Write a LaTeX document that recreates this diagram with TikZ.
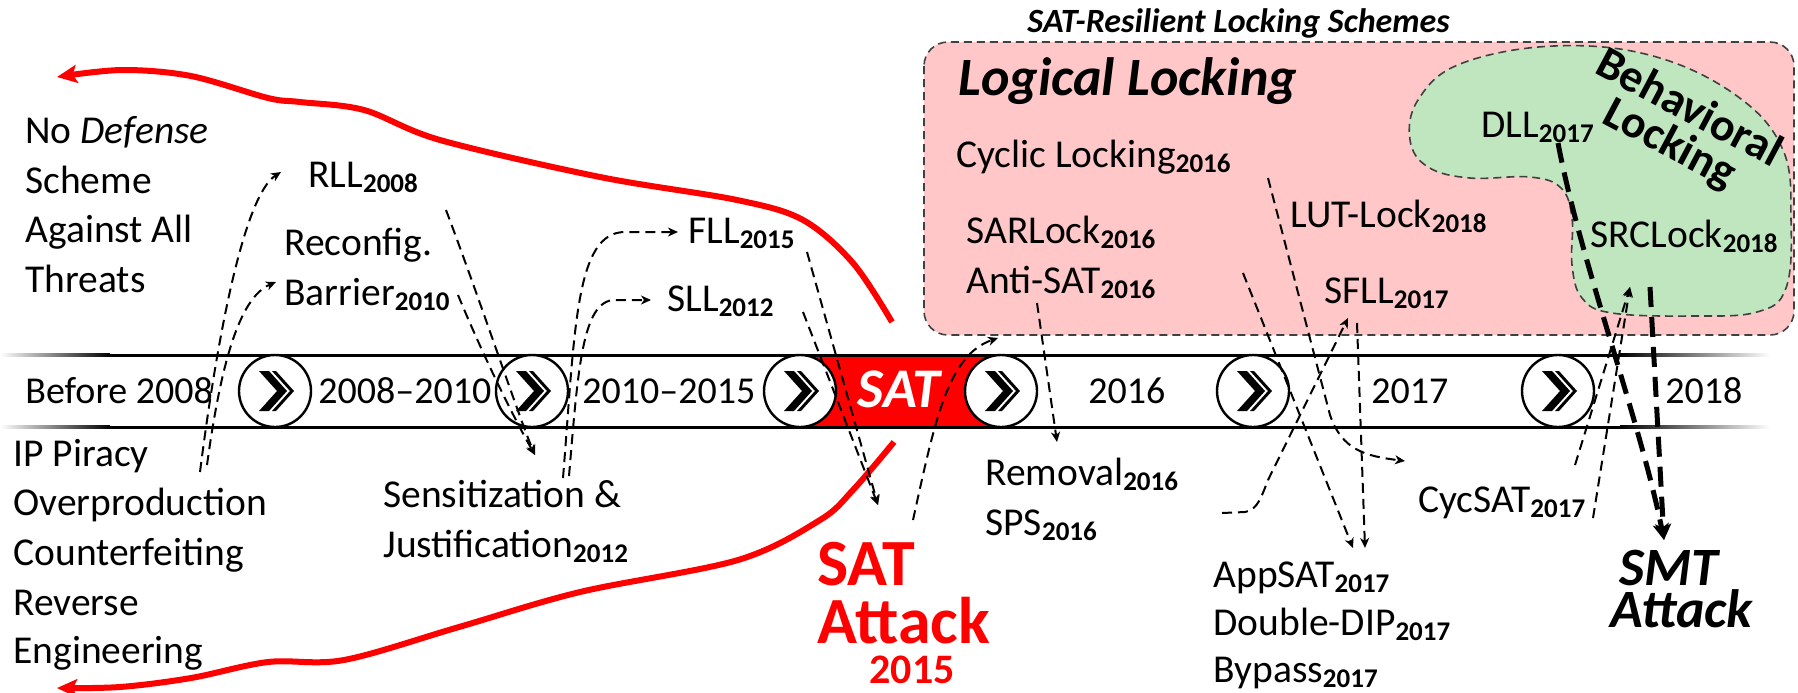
\documentclass[tikz,border=0pt]{standalone}
\usepackage{fontspec}
\setmainfont{Carlito}
\usetikzlibrary{arrows.meta}
\definecolor{pinkbg}{HTML}{FFC7C7}
\definecolor{greenbg}{HTML}{C0E6C0}
\definecolor{boxline}{HTML}{404040}
\newcommand{\yr}[1]{\raisebox{-2.5pt}{\fontsize{13.5pt}{13.5pt}\selectfont\bfseries\upshape #1}}
\begin{document}
\begin{tikzpicture}[x=0.5pt,y=-0.5pt,
  lbl/.style={anchor=base west,inner sep=0pt,font=\fontsize{19.75pt}{24pt}\selectfont},
  bandlbl/.style={anchor=base west,inner sep=0pt,font=\fontsize{19pt}{23pt}\selectfont},
  circ/.style={circle,draw=black,line width=1.2pt,fill=white,minimum size=36pt,inner sep=0pt},
  boxdash/.style={draw=boxline,line width=0.8pt,dash pattern=on 4pt off 2.5pt},
  dconn/.style={line width=1pt,dash pattern=on 5pt off 3pt,-{Stealth[length=5pt,width=4.5pt,inset=1.5pt]}},
  thickconn/.style={line width=2.5pt,dash pattern=on 10pt off 5pt,-{Stealth[length=8pt,width=8pt,inset=2pt]}},
  redarrow/.style={red,line width=3pt,-{Stealth[length=10pt,width=9pt,inset=2pt]}},
  chevfill/.style={fill=black}
  ]
\useasboundingbox (0,0) rectangle (1798,692);

% SAT-resilient box
\draw[boxdash,fill=pinkbg,rounded corners=12pt] (924,42) rectangle (1794,335);
\draw[boxdash,fill=greenbg] plot[smooth cycle,tension=0.65] coordinates {(1554,46) (1653,56) (1737,96) (1783,150) (1791,220) (1786,288) (1757,312) (1692,316) (1612,313) (1582,298) (1572,265) (1572,218) (1561,188) (1530,177) (1470,178) (1428,167) (1410,140) (1418,100) (1460,64)};

\node[anchor=base west,inner sep=0pt,font=\fontsize{17pt}{20pt}\selectfont\bfseries\itshape] (title) at (1027,32) {SAT-Resilient Locking Schemes};
\node[anchor=base west,inner sep=0pt,font=\fontsize{27pt}{32pt}\selectfont\bfseries\itshape] (logical) at (958,95) {Logical Locking};
\node[anchor=center,inner sep=0pt,align=center,rotate=-28,font=\fontsize{23pt}{20pt}\selectfont\bfseries] (beh) at (1679,127) {Behavioral\\Locking};

% timeline band
\fill[red] (800,355) rectangle (1001,427);
\foreach \yy in {355,427}{
  \shade[left color=white,right color=black] (0,\yy-1.5) rectangle (110,\yy+1.5);
  \fill[black] (110,\yy-1.5) rectangle (1620,\yy+1.5);
  \shade[left color=black,right color=white] (1620,\yy-1.5) rectangle (1770,\yy+1.5);
}
\foreach \n/\cx in {c1/275,c2/532,c3/800,c4/1001,c5/1253,c6/1558}{
  \node[circ] (\n) at (\cx,391) {};
  \fill[chevfill,shift={(\cx+2,391)}] (-18,-20) -- (-8,-20) -- (10,0) -- (-8,20) -- (-18,20) -- (0,0) -- cycle;
  \fill[chevfill,shift={(\cx+2,391)}] (-5,-20) -- (-1,-20) -- (17,0) -- (-1,20) -- (-5,20) -- (13,0) -- cycle;
}
\node[bandlbl] (t0) at (25,403) {Before 2008};
\node[bandlbl] (t1) at (318,403) {2008--2010};
\node[bandlbl] (t2) at (582,403) {2010--2015};
\node[anchor=base west,inner sep=0pt,text=white,font=\fontsize{28pt}{32pt}\selectfont\bfseries\itshape] (tsat) at (857,407) {SAT};
\node[bandlbl] (t3) at (1088,403) {2016};
\node[bandlbl] (t4) at (1371,403) {2017};
\node[bandlbl] (t5) at (1665,403) {2018};

% left texts
\node[lbl] (nd1) at (25,143) {No \textit{Defense}};
\node[lbl] (nd2) at (25,193) {Scheme};
\node[lbl] (nd3) at (25,242) {Against All};
\node[lbl] (nd4) at (25,292) {Threats};
\node[lbl] (th1) at (13,466) {IP Piracy};
\node[lbl] (th2) at (13,515) {Overproduction};
\node[lbl] (th3) at (13,565) {Counterfeiting};
\node[lbl] (th4) at (13,615) {Reverse};
\node[lbl] (th5) at (13,663) {Engineering};

\node[lbl] (rll) at (308,187) {RLL\yr{2008}};
\node[lbl] (rb1) at (284,255) {Reconfig.};
\node[lbl] (rb2) at (284,305) {Barrier\yr{2010}};
\node[lbl] (fll) at (688,243) {FLL\yr{2015}};
\node[lbl] (sll) at (667,311) {SLL\yr{2012}};
\node[lbl] (sj1) at (383,507) {Sensitization \&};
\node[lbl] (sj2) at (383,557) {Justification\yr{2012}};

\node[anchor=base west,inner sep=0pt,text=red,font=\fontsize{33pt}{36pt}\selectfont\bfseries] (sat1) at (817,585) {SAT};
\node[anchor=base west,inner sep=0pt,text=red,font=\fontsize{33pt}{36pt}\selectfont\bfseries] (sat2) at (817,643) {Attack};
\node[anchor=base,inner sep=0pt,text=red,font=\fontsize{21pt}{24pt}\selectfont\bfseries] (sat3) at (912,683) {2015};

\node[lbl] (rem) at (985,485) {Removal\yr{2016}};
\node[lbl] (sps) at (985,535) {SPS\yr{2016}};
\node[lbl] (app) at (1213,587) {AppSAT\yr{2017}};
\node[lbl] (ddip) at (1213,635) {Double-DIP\yr{2017}};
\node[lbl] (byp) at (1213,682) {Bypass\yr{2017}};
\node[lbl] (cyc) at (1418,512) {CycSAT\yr{2017}};
\node[anchor=base west,inner sep=0pt,font=\fontsize{27pt}{30pt}\selectfont\bfseries\itshape] (smt1) at (1619,585) {SMT};
\node[anchor=base west,inner sep=0pt,font=\fontsize{27pt}{30pt}\selectfont\bfseries\itshape] (smt2) at (1610,627) {Attack};

\node[lbl] (cl) at (956,167) {Cyclic Locking\yr{2016}};
\node[lbl] (sar) at (966,243) {SARLock\yr{2016}};
\node[lbl] (anti) at (966,293) {Anti-SAT\yr{2016}};
\node[lbl] (lut) at (1290,227) {LUT-Lock\yr{2018}};
\node[lbl] (sfll) at (1324,303) {SFLL\yr{2017}};
\node[lbl] (dll) at (1481,137) {DLL\yr{2017}};
\node[lbl] (src) at (1590,247) {SRCLock\yr{2018}};

% red curves
\draw[redarrow] plot[smooth,tension=0.55] coordinates {(892,322) (853,263) (803,220) (737,200) (600,177) (440,140) (364,110) (300,102) (268,98) (191,76) (122,70) (57,77)};
\draw[redarrow] plot[smooth,tension=0.55] coordinates {(894,442) (853,490) (820,520) (738,560) (580,592) (459,627) (344,660) (268,662) (191,678) (120,687) (57,688)};

% connectors
\coordinate (a1s) at (200,472); \coordinate (a1e) at (281,172);
\coordinate (a2s) at (207,465); \coordinate (a2e) at (276,282);
\coordinate (a3s) at (446,210); \coordinate (a4s) at (458,295); \coordinate (sjE) at (535,455);
\coordinate (a5s) at (563,478); \coordinate (fllE) at (678,232);
\coordinate (a6s) at (569,476); \coordinate (sllE) at (651,300);
\coordinate (a7s) at (807,252); \coordinate (a8s) at (803,312); \coordinate (satE) at (878,505);
\coordinate (a9s) at (913,520); \coordinate (boxE) at (998,338);
\coordinate (a10s) at (1037,303); \coordinate (remE) at (1057,442);
\coordinate (a11s) at (1268,178); \coordinate (cycE) at (1405,461);
\coordinate (a12s) at (1243,273); \coordinate (appE1) at (1353,548);
\coordinate (a13s) at (1357,323); \coordinate (appE2) at (1365,548);
\coordinate (a14s) at (1222,513); \coordinate (sfllE) at (1348,318);
\coordinate (a15s) at (1575,465); \coordinate (a16s) at (1593,518); \coordinate (srcE) at (1630,287);
\coordinate (t1s) at (1558,143); \coordinate (t2s) at (1650,287); \coordinate (smtE) at (1664,540);

\draw[dconn] (a1s) .. controls (218,330) and (245,195) .. (a1e);
\draw[dconn] (a2s) .. controls (220,370) and (238,298) .. (a2e);
\draw[dconn] (a3s) .. controls (480,300) and (520,420) .. (sjE);
\draw[dconn] (a4s) .. controls (485,360) and (515,420) .. (sjE);
\draw[dconn] (a5s) .. controls (575,330) and (575,232) .. (625,232) -- (fllE);
\draw[dconn] (a6s) .. controls (578,370) and (582,300) .. (615,300) -- (sllE);
\draw[dconn] (a7s) -- (satE);
\draw[dconn] (a8s) -- (satE);
\draw[dconn] (a9s) .. controls (935,420) and (948,355) .. (boxE);
\draw[dconn] (a10s) -- (remE);
\draw[dconn] (a11s) -- (1330,415) .. controls (1342,450) and (1365,456) .. (cycE);
\draw[dconn] (a12s) -- (appE1);
\draw[dconn] (a13s) -- (appE2);
\draw[dconn] (a14s) -- (1245,512) .. controls (1258,510) and (1262,495) .. (1268,480) -- (sfllE);
\draw[dconn] (a15s) -- (srcE);
\draw[dconn] (a16s) -- (srcE);
\draw[thickconn] (t1s) .. controls (1580,260) and (1640,420) .. (smtE);
\draw[thickconn] (t2s) -- (smtE);
\end{tikzpicture}
\end{document}
